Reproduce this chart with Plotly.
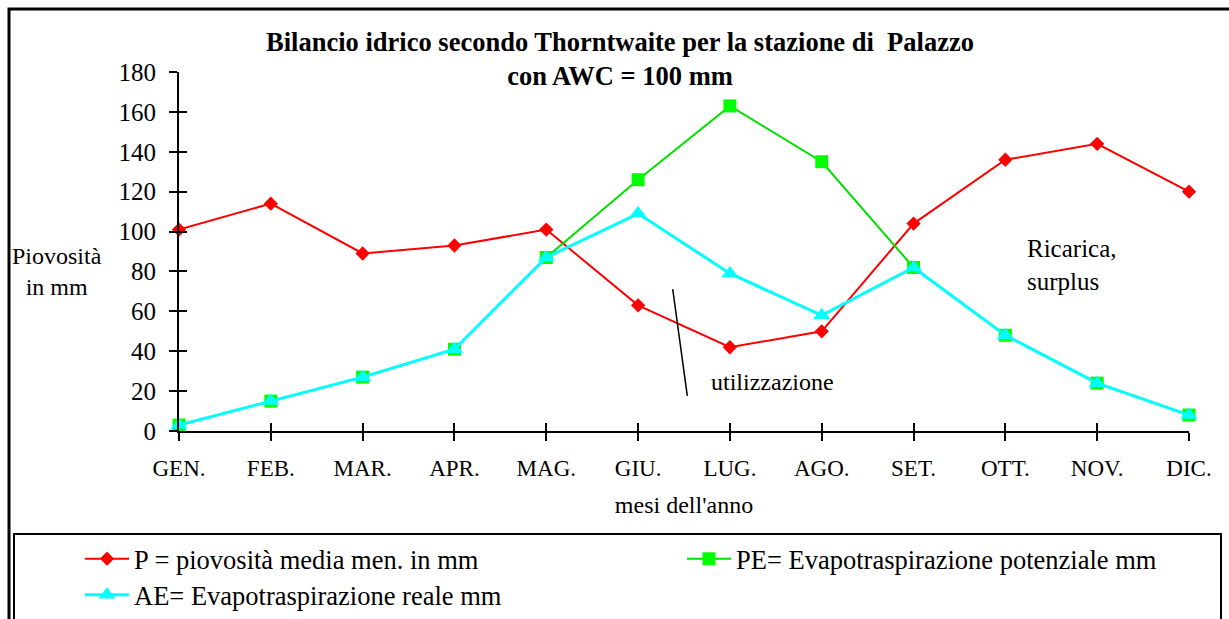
import plotly.graph_objects as go

months = ["GEN.", "FEB.", "MAR.", "APR.", "MAG.", "GIU.", "LUG.", "AGO.", "SET.", "OTT.", "NOV.", "DIC."]
P = [101, 114, 89, 93, 101, 63, 42, 50, 104, 136, 144, 120]
PE = [3, 15, 27, 41, 87, 126, 163, 135, 82, 48, 24, 8]
AE = [3, 15, 27, 41, 87, 109, 79, 58, 82, 48, 24, 8]

name_P = "P = piovosità media men. in mm"
name_PE = "PE= Evapotraspirazione potenziale mm"
name_AE = "AE= Evapotraspirazione reale mm"

FONT = "Liberation Serif"
RED = "#ff0000"
GREEN = "#00e000"
CYAN = "#00ffff"

fig = go.Figure()
fig.add_trace(go.Scatter(x=months, y=P, name=name_P, mode="lines+markers",
                         line=dict(color=RED, width=2),
                         marker=dict(symbol="diamond", size=11, color=RED),
                         cliponaxis=False, legend="legend"))
fig.add_trace(go.Scatter(x=months, y=PE, name=name_PE, mode="lines+markers",
                         line=dict(color=GREEN, width=2),
                         marker=dict(symbol="square", size=13, color="#00ff00"),
                         cliponaxis=False, legend="legend2"))
fig.add_trace(go.Scatter(x=months, y=AE, name=name_AE, mode="lines+markers",
                         line=dict(color=CYAN, width=3),
                         marker=dict(symbol="triangle-up", size=15, color=CYAN),
                         cliponaxis=False, legend="legend3"))

L, R, T, B = 179, 40, 72, 188
W, H = 1229, 619
pw = W - L - R
ph = H - T - B

def px_x(p):
    return (p - L) / pw

def px_y(p):
    return (H - B - p) / ph

leg_common = dict(font=dict(family=FONT, size=26.5, color="black"),
                  bgcolor="rgba(0,0,0,0)", borderwidth=0, itemwidth=44,
                  xanchor="left", yanchor="middle", orientation="v")

fig.update_layout(
    width=W, height=H,
    margin=dict(l=L, r=R, t=T, b=B, pad=0, autoexpand=False),
    paper_bgcolor="white", plot_bgcolor="white",
    font=dict(family=FONT, color="black"),
    title=dict(text="<b>Bilancio idrico secondo Thorntwaite per la stazione di  Palazzo<br>con AWC = 100 mm</b>",
               font=dict(family=FONT, size=26.5, color="black"),
               x=620 / W, xanchor="center", xref="container",
               y=1 - 51 / H, yanchor="top", yref="container"),
    xaxis=dict(type="category", range=[0, 11], showgrid=False, zeroline=False,
               showline=True, linecolor="black", linewidth=2,
               ticks="outside", ticklen=8, tickwidth=2, tickcolor="black",
               tickfont=dict(family=FONT, size=23, color="black"),
               ticklabelstandoff=7,
               title=dict(text="mesi dell'anno", font=dict(family=FONT, size=24, color="black"),
                          standoff=17)),
    yaxis=dict(range=[0, 180], dtick=20, showgrid=False, zeroline=False,
               showline=True, linecolor="black", linewidth=2,
               ticks="outside", ticklen=8, tickwidth=2, tickcolor="black",
               tickfont=dict(family=FONT, size=25, color="black"),
               ticklabelstandoff=8),
    xaxis2=dict(overlaying="x", anchor="y", range=[0, 11], dtick=1, tick0=0,
                showgrid=False, zeroline=False, showline=False, showticklabels=False,
                ticks="inside", ticklen=8, tickwidth=2, tickcolor="black", side="bottom"),
    yaxis2=dict(overlaying="y", anchor="x", range=[0, 180], dtick=20,
                showgrid=False, zeroline=False, showline=False, showticklabels=False,
                ticks="inside", ticklen=8, tickwidth=2, tickcolor="black", side="left"),
    legend=dict(x=px_x(80), y=px_y(559), **leg_common),
    legend2=dict(x=px_x(682), y=px_y(559), **leg_common),
    legend3=dict(x=px_x(80), y=px_y(595), **leg_common),
)

# invisible helper trace so the overlay tick axes render
fig.add_trace(go.Scatter(x=[0, 11], y=[0, 180], xaxis="x2", yaxis="y2", mode="markers",
                         marker=dict(opacity=0), showlegend=False, hoverinfo="skip"))

fig.add_annotation(text="Piovosità<br>in mm", xref="paper", yref="paper",
                   x=px_x(57), y=px_y(271), xanchor="center", yanchor="middle",
                   showarrow=False, align="center",
                   font=dict(family=FONT, size=24, color="black"))
fig.add_annotation(text="utilizzazione", xref="x", yref="y", x=6.464, y=24.6,
                   xanchor="center", yanchor="middle", showarrow=False,
                   font=dict(family=FONT, size=24, color="black"))
fig.add_annotation(text="Ricarica,<br>surplus", xref="x", yref="y", x=9.21, y=83.2,
                   xanchor="left", yanchor="middle", showarrow=False, align="left",
                   font=dict(family=FONT, size=25, color="black"))

fig.add_shape(type="line", xref="x", yref="y", x0=5.377, y0=71.1, x1=5.536, y1=17.6,
              line=dict(color="black", width=1.5))

# outer border
fig.add_shape(type="rect", xref="paper", yref="paper",
              x0=px_x(9), y0=px_y(630), x1=px_x(1240), y1=px_y(9),
              line=dict(color="black", width=3), layer="below")
# legend box
fig.add_shape(type="rect", xref="paper", yref="paper",
              x0=px_x(14), y0=px_y(630), x1=px_x(1221), y1=px_y(534),
              line=dict(color="black", width=2), layer="below")

fig.write_html("out.html", config={"displayModeBar": False},
               post_script="document.body.style.margin='0';document.body.style.overflow='hidden';")
